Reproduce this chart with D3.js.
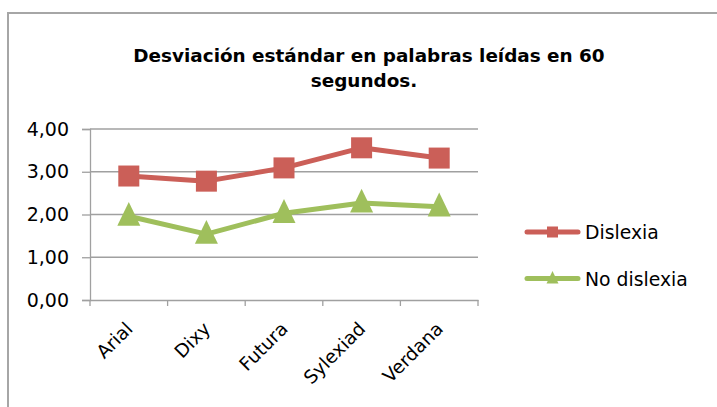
<!DOCTYPE html>
<html><head><meta charset="utf-8">
<script src="https://cdn.jsdelivr.net/npm/d3@7"></script>
<style>body{margin:0;background:#fff}svg{display:block}text{font-family:"DejaVu Sans",sans-serif}</style>
</head><body>
<svg id="c" width="717" height="407"></svg>
<script>
const categories = ["Arial","Dixy","Futura","Sylexiad","Verdana"];
const dislexia = [2.90, 2.78, 3.09, 3.56, 3.32];
const noDislexia = [1.96, 1.54, 2.03, 2.27, 2.18];
const seriesNames = ["Dislexia","No dislexia"];
const yTicks = [0,1,2,3,4];
const titleLines = ["Desviación estándar en palabras leídas en 60","segundos."];

const svg = d3.select("#c");
const colors = ["#CB5F58","#9FBF5C"];
const series = [
  {name: seriesNames[0], values: dislexia, color: colors[0], marker: "square"},
  {name: seriesNames[1], values: noDislexia, color: colors[1], marker: "triangle"}
];

// outer frame
svg.append("rect").attr("x",8).attr("y",13).attr("width",740).attr("height",440)
  .attr("fill","none").attr("stroke","#a6a6a6").attr("stroke-width",2);

// title
svg.append("g").selectAll("text").data(titleLines).join("text")
  .attr("x",(d,i)=> i===0?369:364).attr("y",(d,i)=>62+i*25)
  .attr("text-anchor","middle").attr("font-weight","bold").attr("font-size",18.4)
  .attr("fill","#000").text(d=>d);

const x = d3.scaleBand().domain(categories).range([90,478]);
const y = d3.scaleLinear().domain([0,4]).range([300,129]);

// gridlines
svg.append("g").selectAll("line").data(yTicks.filter(d=>d>0)).join("line")
  .attr("x1",90).attr("x2",478).attr("y1",d=>y(d)).attr("y2",d=>y(d))
  .attr("stroke","#a0a0a0").attr("stroke-width",1.3);

// y axis
const yAxis = svg.append("g").attr("transform","translate(90,0)")
  .call(d3.axisLeft(y).tickValues(yTicks).tickSize(8).tickPadding(13)
    .tickFormat(d=>d3.format(".2f")(d).replace(".",",")));
yAxis.select(".domain").attr("stroke","#a0a0a0").attr("stroke-width",1.3);
yAxis.selectAll(".tick line").attr("stroke","#a0a0a0").attr("stroke-width",1.3);
yAxis.selectAll("text").attr("font-size",19).attr("fill","#000")
  .attr("font-family","DejaVu Sans, sans-serif");

// x axis
const xAxis = svg.append("g").attr("transform","translate(0,300)")
  .call(d3.axisBottom(x).tickSize(0).tickFormat(""));
xAxis.select(".domain").attr("stroke","#a0a0a0").attr("stroke-width",1.3);
const bounds = categories.map(c=>x(c)).concat([x.range()[1]]);
svg.append("g").selectAll("line").data(bounds).join("line")
  .attr("x1",d=>d).attr("x2",d=>d).attr("y1",300).attr("y2",306)
  .attr("stroke","#a0a0a0").attr("stroke-width",1.3);
svg.append("g").selectAll("text").data(categories).join("text")
  .attr("transform",d=>`translate(${x(d)+x.bandwidth()/2+5},${330}) rotate(-45)`)
  .attr("text-anchor","end").attr("font-size",18.5).attr("fill","#000").text(d=>d);

const cx = d=>x(d)+x.bandwidth()/2;
function drawMarker(g, type, size, color){
  if(type==="square"){
    g.append("rect").attr("x",-size/2).attr("y",-size/2).attr("width",size).attr("height",size)
      .attr("fill",color);
  } else {
    const h=size;
    g.append("path").attr("d",`M0,${-h*0.62}L${size/2},${h*0.42}L${-size/2},${h*0.42}Z`).attr("fill",color);
  }
}
series.forEach(s=>{
  const line = d3.line().x((d,i)=>cx(categories[i])).y(d=>y(d));
  svg.append("path").datum(s.values).attr("d",line).attr("fill","none")
    .attr("stroke",s.color).attr("stroke-width",5).attr("stroke-linejoin","round");
  s.values.forEach((v,i)=>{
    const g = svg.append("g").attr("transform",`translate(${cx(categories[i])},${y(v)})`);
    drawMarker(g, s.marker, s.marker==="square"?21:23, s.color);
  });
});

// legend
const leg = svg.append("g");
series.forEach((s,i)=>{
  const ly = 232 + i*46.5;
  leg.append("line").attr("x1",527).attr("x2",578).attr("y1",ly).attr("y2",ly)
    .attr("stroke",s.color).attr("stroke-width",5).attr("stroke-linecap","round");
  const g = leg.append("g").attr("transform",`translate(552.5,${ly})`);
  drawMarker(g, s.marker, s.marker==="square"?11:12, s.color);
  leg.append("text").attr("x",585).attr("y",ly+7).attr("font-size",18.8)
    .attr("fill","#000").text(s.name);
});
</script>
</body></html>
